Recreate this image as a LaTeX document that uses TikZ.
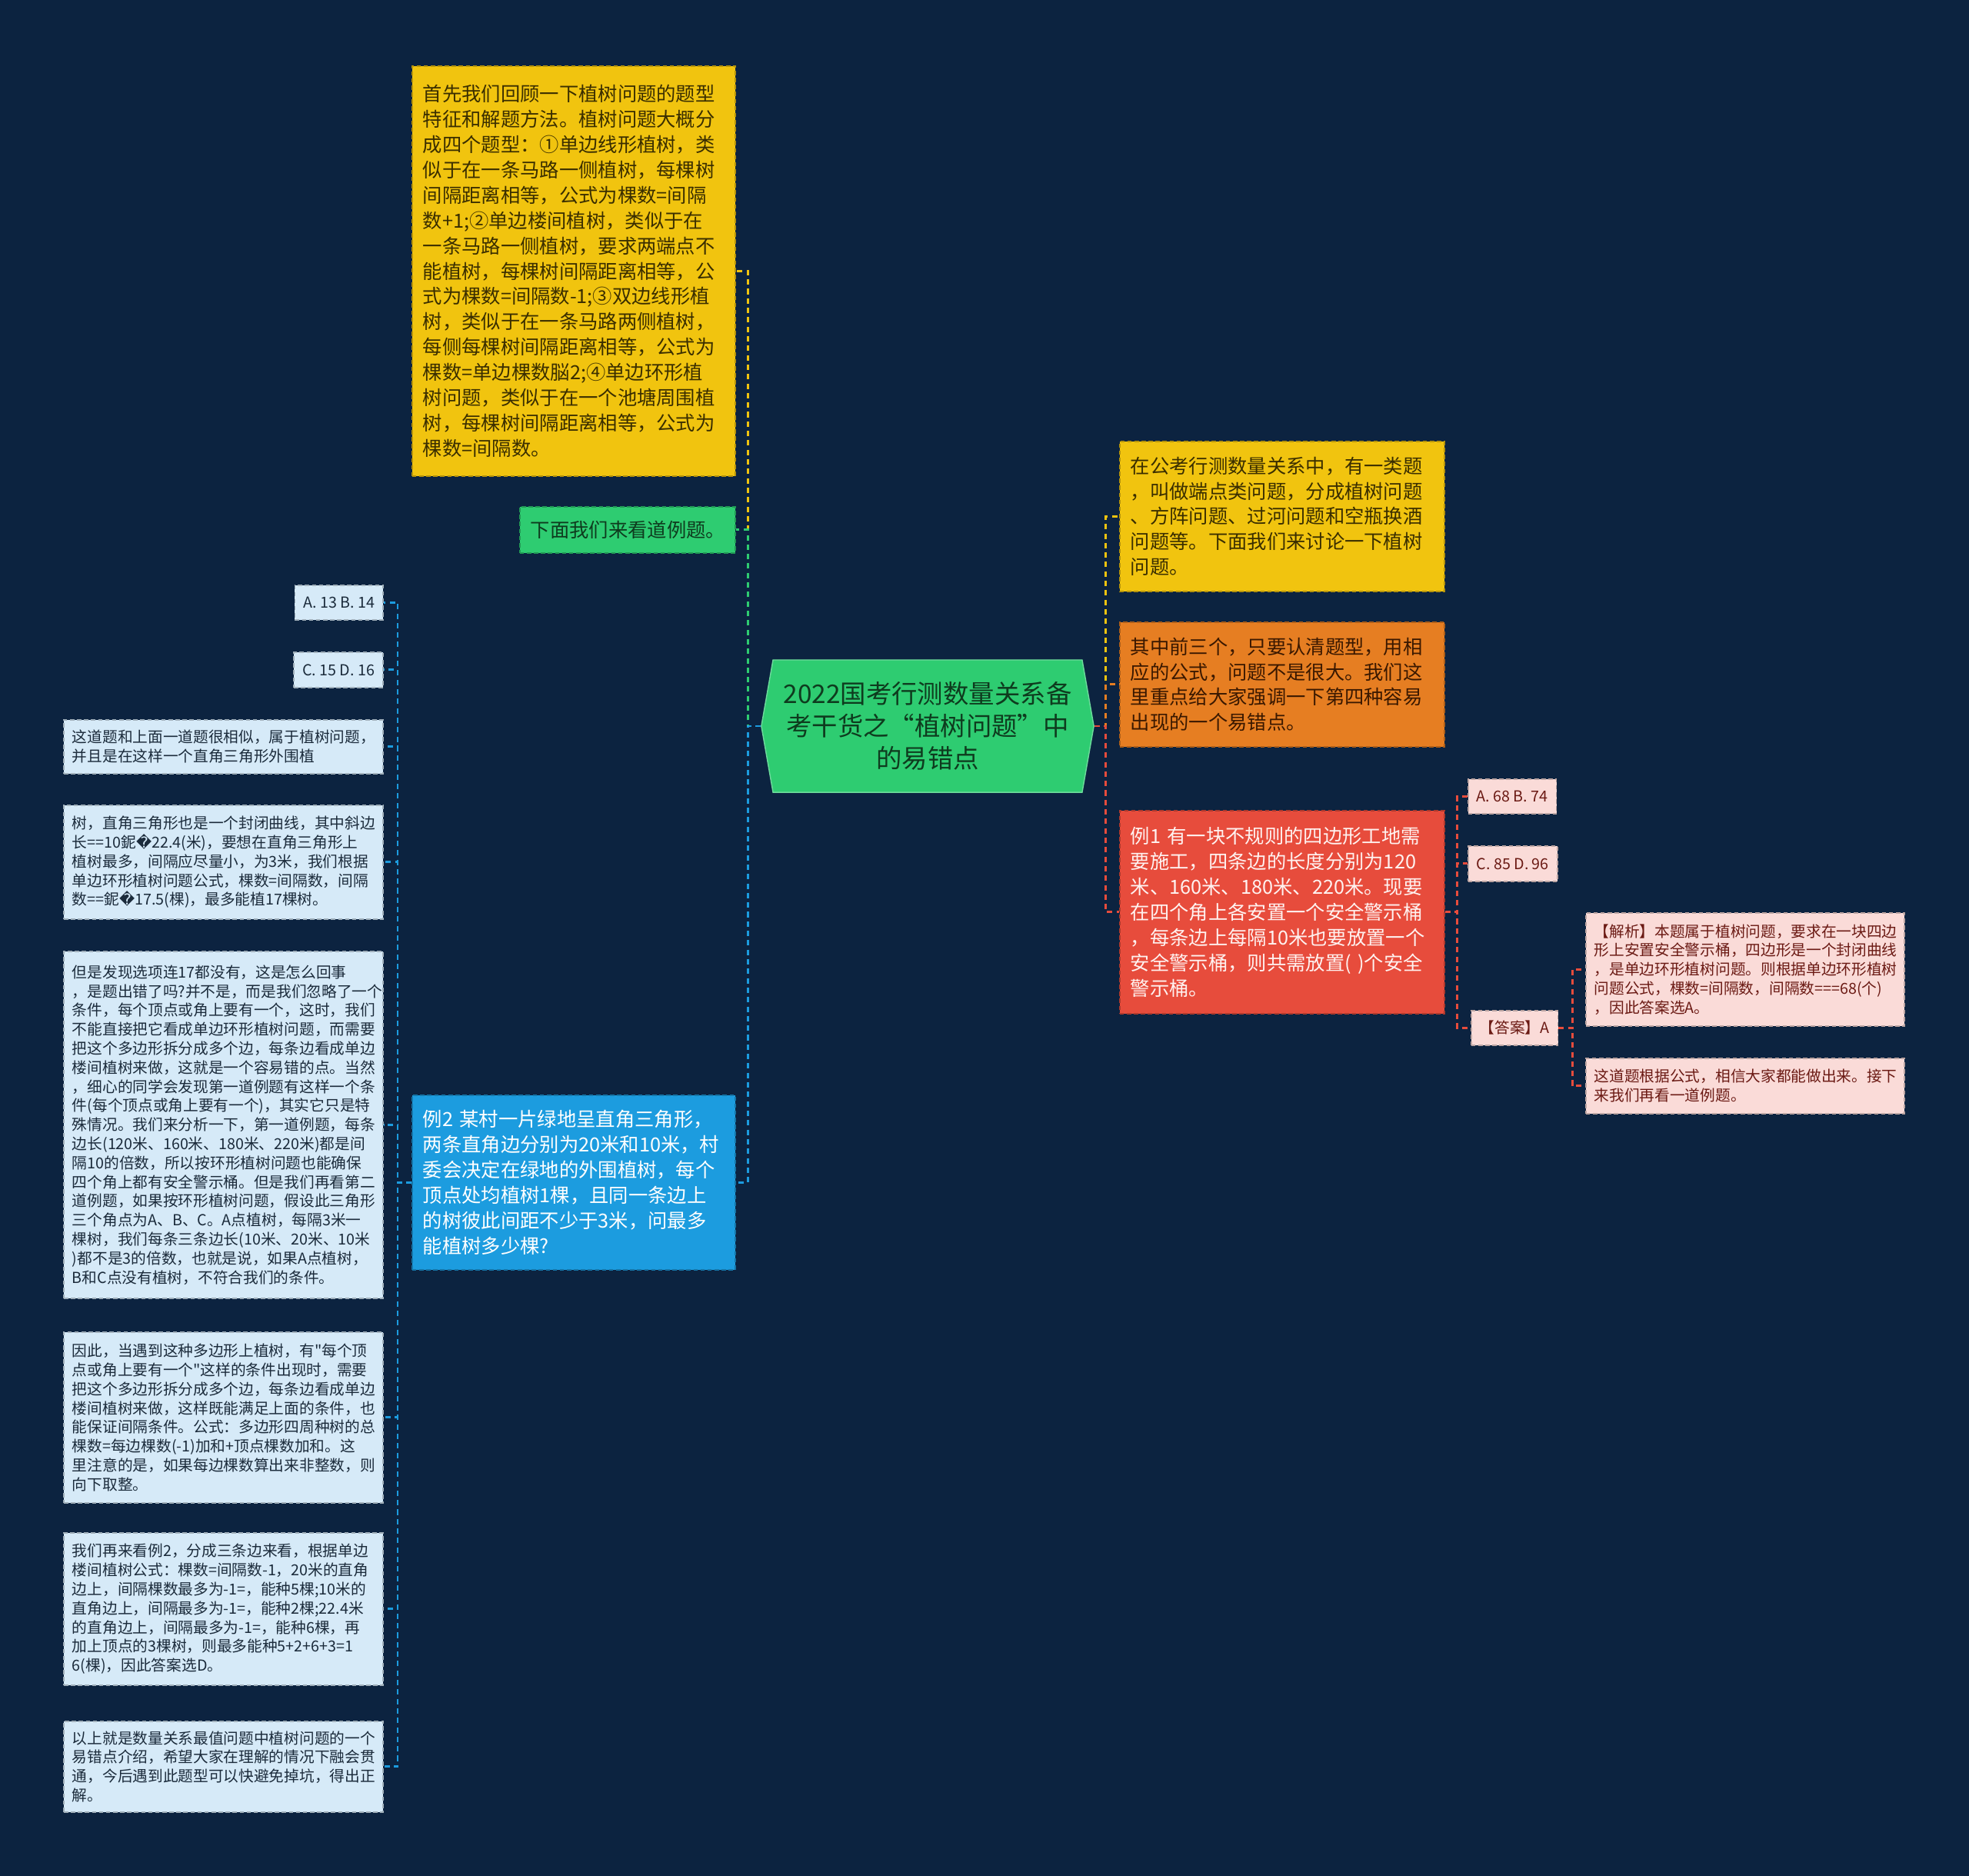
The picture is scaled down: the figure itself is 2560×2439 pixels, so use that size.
\documentclass[tikz,border=0pt]{standalone}
\usepackage{fontspec}
\setmainfont{Noto Sans CJK SC}[Ligatures=TeXOff]
\newfontfamily\dejavu{DejaVu Sans}
\usetikzlibrary{shapes.symbols}

\definecolor{bgblue}{HTML}{0C2340}
\definecolor{yelc}{HTML}{F1C40F}
\definecolor{grnc}{HTML}{2ECC71}
\definecolor{bluc}{HTML}{1C9CDF}
\definecolor{orgc}{HTML}{E67E22}
\definecolor{redc}{HTML}{E74C3C}
\definecolor{lblc}{HTML}{D6EAF8}
\definecolor{pnkc}{HTML}{FADBD8}
\definecolor{yelt}{HTML}{3A2E00}
\definecolor{grnt}{HTML}{0E3B1E}
\definecolor{orgt}{HTML}{3A1800}
\definecolor{whtt}{HTML}{FFF2F0}
\definecolor{lblt}{HTML}{1B2B3B}
\definecolor{pnkt}{HTML}{6B1A14}

\tikzset{
  card/.style={fill=#1, draw=#1!75!black, line width=0.45pt, dash pattern=on 1.6pt off 1pt, align=left, inner ysep=0pt},
  bigtxt/.style={font=\fontsize{7.2}{9.35}\selectfont, inner xsep=0.14cm},
  smalltxt/.style={font=\fontsize{5.6}{7.05}\selectfont, inner xsep=0.11cm},
  link/.style={draw=#1, line width=0.8pt, dash pattern=on 2pt off 1.5pt},
  rootbox/.style={signal, signal to=west and east, signal pointer angle=160, fill=grnc, draw=grnc!70!white,
    text=grnt, align=center, font=\fontsize{9.5}{11.9}\selectfont, minimum width=4.32cm, minimum height=1.72cm, inner sep=0pt}
}

\begin{document}
\begin{tikzpicture}[x=0.01cm, y=-0.01cm]
\useasboundingbox (0,0) rectangle (2560,2439);
\fill[bgblue] (0,0) rectangle (2560,2439);

% centre
\node[rootbox] (root) at (1206,944) {2022国考行测数量关系备\\考干货之“植树问题”中\\的易错点};

% left branch
\node[card=yelc, bigtxt, text=yelt, anchor=north west, text width=3.92cm, minimum height=5.33cm] (review) at (535,85)
  {首先我们回顾一下植树问题的题型\\特征和解题方法。植树问题大概分\\成四个题型：①单边线形植树，类\\似于在一条马路一侧植树，每棵树\\间隔距离相等，公式为棵数=间隔\\数+1;②单边楼间植树，类似于在\\一条马路一侧植树，要求两端点不\\能植树，每棵树间隔距离相等，公\\式为棵数=间隔数-1;③双边线形植\\树，类似于在一条马路两侧植树，\\每侧每棵树间隔距离相等，公式为\\棵数=单边棵数脳2;④单边环形植\\树问题，类似于在一个池塘周围植\\树，每棵树间隔距离相等，公式为\\棵数=间隔数。};
\node[card=grnc, bigtxt, text=grnt, anchor=north west, text width=2.52cm, minimum height=0.60cm] (seeexample) at (675,658)
  {下面我们来看道例题。};
\node[card=bluc, bigtxt, text=white, anchor=north west, text width=3.92cm, minimum height=2.27cm] (example2) at (535,1423)
  {例2 某村一片绿地呈直角三角形，\\两条直角边分别为20米和10米，村\\委会决定在绿地的外围植树，每个\\顶点处均植树1棵，且同一条边上\\的树彼此间距不少于3米，问最多\\能植树多少棵?};

% answers and notes of example 2
\node[card=lblc, smalltxt, text=lblt, anchor=north east, minimum height=0.45cm] (opt13) at (499,760) {A. 13 B. 14};
\node[card=lblc, smalltxt, text=lblt, anchor=north east, minimum height=0.46cm] (opt15) at (499,847) {C. 15 D. 16};
\node[card=lblc, smalltxt, text=lblt, anchor=north east, text width=3.93cm, minimum height=0.70cm] (note1) at (499,935)
  {这道题和上面一道题很相似，属于植树问题，\\并且是在这样一个直角三角形外围植};
\node[card=lblc, smalltxt, text=lblt, anchor=north east, text width=3.93cm, minimum height=1.48cm] (note2) at (499,1046)
  {树，直角三角形也是一个封闭曲线，其中斜边\\长==10鈮{\dejavu �}22.4(米)，要想在直角三角形上\\植树最多，间隔应尽量小，为3米，我们根据\\单边环形植树问题公式，棵数=间隔数，间隔\\数==鈮{\dejavu �}17.5(棵)，最多能植17棵树。};
\node[card=lblc, smalltxt, text=lblt, anchor=north east, text width=3.93cm, minimum height=4.51cm] (note3) at (499,1236)
  {但是发现选项连17都没有，这是怎么回事\\，是题出错了吗?并不是，而是我们忽略了一个\\条件，每个顶点或角上要有一个，这时，我们\\不能直接把它看成单边环形植树问题，而需要\\把这个多边形拆分成多个边，每条边看成单边\\楼间植树来做，这就是一个容易错的点。当然\\，细心的同学会发现第一道例题有这样一个条\\件(每个顶点或角上要有一个)，其实它只是特\\殊情况。我们来分析一下，第一道例题，每条\\边长(120米、160米、180米、220米)都是间\\隔10的倍数，所以按环形植树问题也能确保\\四个角上都有安全警示桶。但是我们再看第二\\道例题，如果按环形植树问题，假设此三角形\\三个角点为A、B、C。A点植树，每隔3米一\\棵树，我们每条三条边长(10米、20米、10米\\)都不是3的倍数，也就是说，如果A点植树，\\B和C点没有植树，不符合我们的条件。};
\node[card=lblc, smalltxt, text=lblt, anchor=north east, text width=3.93cm, minimum height=2.22cm] (note4) at (499,1731)
  {因此，当遇到这种多边形上植树，有"每个顶\\点或角上要有一个"这样的条件出现时，需要\\把这个多边形拆分成多个边，每条边看成单边\\楼间植树来做，这样既能满足上面的条件，也\\能保证间隔条件。公式：多边形四周种树的总\\棵数=每边棵数(-1)加和+顶点棵数加和。这\\里注意的是，如果每边棵数算出来非整数，则\\向下取整。};
\node[card=lblc, smalltxt, text=lblt, anchor=north east, text width=3.93cm, minimum height=1.98cm] (note5) at (499,1992)
  {我们再来看例2，分成三条边来看，根据单边\\楼间植树公式：棵数=间隔数-1，20米的直角\\边上，间隔棵数最多为-1=，能种5棵;10米的\\直角边上，间隔最多为-1=，能种2棵;22.4米\\的直角边上，间隔最多为-1=，能种6棵，再\\加上顶点的3棵树，则最多能种5+2+6+3=1\\6(棵)，因此答案选D。};
\node[card=lblc, smalltxt, text=lblt, anchor=north east, text width=3.93cm, minimum height=1.18cm] (note6) at (499,2237)
  {以上就是数量关系最值问题中植树问题的一个\\易错点介绍，希望大家在理解的情况下融会贯\\通，今后遇到此题型可以快避免掉坑，得出正\\解。};

% right branch
\node[card=yelc, bigtxt, text=yelt, anchor=north west, text width=3.94cm, minimum height=1.95cm] (intro) at (1455,573)
  {在公考行测数量关系中，有一类题\\，叫做端点类问题，分成植树问题\\、方阵问题、过河问题和空瓶换酒\\问题等。下面我们来讨论一下植树\\问题。};
\node[card=orgc, bigtxt, text=orgt, anchor=north west, text width=3.94cm, minimum height=1.62cm] (firstthree) at (1455,808)
  {其中前三个，只要认清题型，用相\\应的公式，问题不是很大。我们这\\里重点给大家强调一下第四种容易\\出现的一个易错点。};
\node[card=redc, bigtxt, text=whtt, anchor=north west, text width=3.94cm, minimum height=2.64cm] (example1) at (1455,1053)
  {例1 有一块不规则的四边形工地需\\要施工，四条边的长度分别为120\\米、160米、180米、220米。现要\\在四个角上各安置一个安全警示桶\\，每条边上每隔10米也要放置一个\\安全警示桶，则共需放置( )个安全\\警示桶。};

% answers of example 1
\node[card=pnkc, smalltxt, text=pnkt, anchor=north west, minimum height=0.45cm] (opt68) at (1908,1012) {A. 68 B. 74};
\node[card=pnkc, smalltxt, text=pnkt, anchor=north west, minimum height=0.46cm] (opt85) at (1908,1099) {C. 85 D. 96};
\node[card=pnkc, smalltxt, text=pnkt, anchor=north west, minimum height=0.45cm] (answer1) at (1912,1313) {【答案】A};
\node[card=pnkc, smalltxt, text=pnkt, anchor=north west, text width=3.92cm, minimum height=1.47cm] (analysis1) at (2061,1186)
  {【解析】本题属于植树问题，要求在一块四边\\形上安置安全警示桶，四边形是一个封闭曲线\\，是单边环形植树问题。则根据单边环形植树\\问题公式，棵数=间隔数，间隔数===68(个)\\，因此答案选A。};
\node[card=pnkc, smalltxt, text=pnkt, anchor=north west, text width=3.92cm, minimum height=0.72cm] (nextone) at (2061,1375)
  {这道题根据公式，相信大家都能做出来。接下\\来我们再看一道例题。};

% connectors
\draw[link=yelc] (root.west) -- ++(-17,0) |- (review.east);
\draw[link=grnc] (root.west) -- ++(-17,0) |- (seeexample.east);
\draw[link=bluc] (root.west) -- ++(-17,0) |- (example2.east);
\draw[link=yelc] (root.east) -- ++(15,0) |- (intro.west);
\draw[link=orgc] (root.east) -- ++(15,0) |- (firstthree.west);
\draw[link=redc] (root.east) -- ++(15,0) |- (example1.west);
\foreach \n in {opt13,opt15,note1,note2,note3,note4,note5,note6}
  \draw[link=bluc] (example2.west) -- ++(-18,0) |- (\n.east);
\foreach \n in {opt68,opt85,answer1}
  \draw[link=redc] (example1.east) -- ++(16,0) |- (\n.west);
\foreach \n in {analysis1,nextone}
  \draw[link=redc] (answer1.east) -- ++(18,0) |- (\n.west);
\end{tikzpicture}
\end{document}
